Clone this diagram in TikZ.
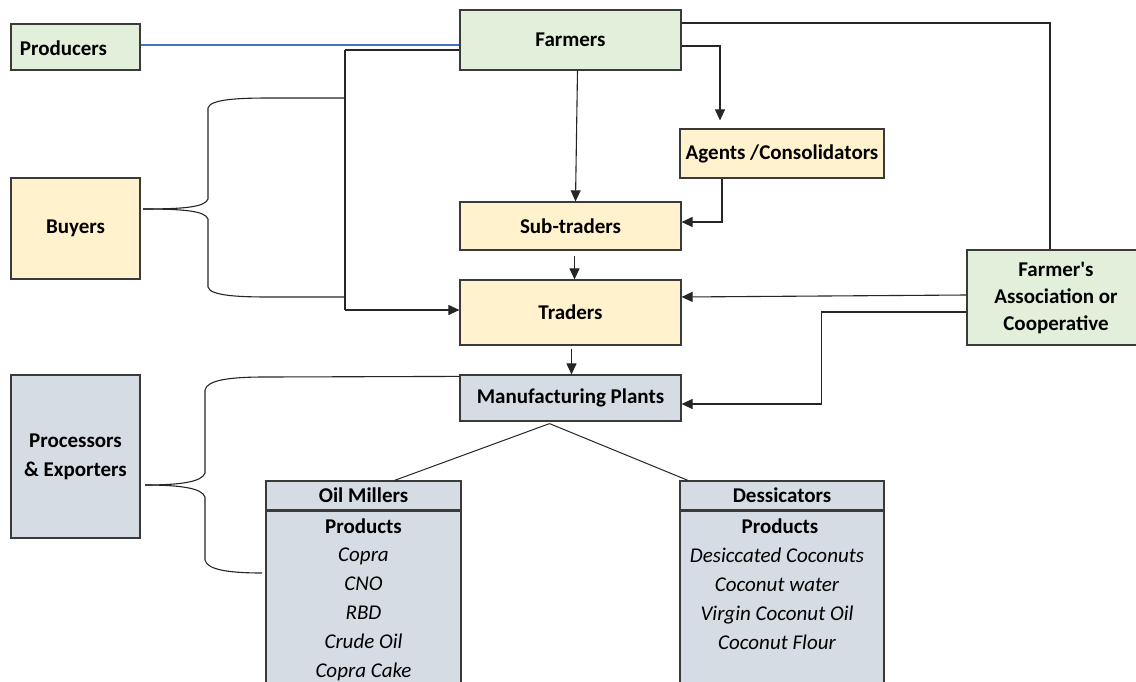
\documentclass[tikz,border=0pt]{standalone}
\usepackage{fontspec}
\setmainfont{Carlito}
\usetikzlibrary{arrows.meta}
\definecolor{gfill}{HTML}{E2EFDA}
\definecolor{yfill}{HTML}{FFF2CC}
\definecolor{bfill}{HTML}{D6DCE4}
\definecolor{edge}{HTML}{3A3A3A}
\definecolor{bluel}{HTML}{4472C4}
\tikzset{
  box/.style={draw=edge, line width=1.2pt, inner sep=0pt, align=center, font=\fontsize{21}{27}\selectfont\bfseries},
  gbox/.style={box, fill=gfill},
  ybox/.style={box, fill=yfill},
  bbox/.style={box, fill=bfill},
  conn/.style={draw=black!85, line width=1.1pt},
  arr/.style={conn, -{Triangle[length=11pt,width=10pt]}},
  lbl/.style={inner sep=0pt, font=\fontsize{21}{27}\selectfont\bfseries},
  prodtxt/.style={inner sep=0pt, align=center, font=\fontsize{21}{29}\selectfont\itshape},
}
\begin{document}
\begin{tikzpicture}[x=1pt,y=-1pt]
\useasboundingbox (0,0) rectangle (1136,681);
\clip (0,0) rectangle (1136,681);
\fill[white] (0,0) rectangle (1136,681);
% boxes
\node[gbox, minimum width=129pt, minimum height=46pt] (prod) at (75.5,47) {};
\node[lbl] (prodt) at (63.5,48) {Producers};
\node[gbox, minimum width=221pt, minimum height=60pt] (farm) at (570.5,40) {Farmers};
\node[ybox, minimum width=204pt, minimum height=49pt] (agent) at (782,153.5) {Agents /Consolidators};
\node[ybox, minimum width=221pt, minimum height=48pt] (sub) at (570.5,226) {Sub-traders};
\node[ybox, minimum width=221pt, minimum height=65pt] (trad) at (570.5,312.5) {Traders};
\node[bbox, minimum width=221pt, minimum height=46pt] (mfg) at (570.5,398) {Manufacturing Plants};
\node[ybox, minimum width=129pt, minimum height=101pt] (buy) at (75.5,228.5) {Buyers};
\node[bbox, minimum width=129pt, minimum height=163pt, font=\fontsize{21}{29}\selectfont\bfseries] (proc) at (75.5,456.5) {Processors\\\& Exporters};
\node[gbox, minimum width=173pt, minimum height=95pt] (assoc) at (1053.5,297.5) {};
\node[lbl, align=center] (assoct) at (1056,298) {Farmer\textquotesingle s\\Association or\\Cooperative};
% product tables
\node[bbox, minimum width=195pt, minimum height=29pt] (oilh) at (363.5,495.5) {Oil Millers};
\node[bbox, anchor=north, minimum width=195pt, minimum height=200pt] (oilb) at (oilh.south) {};
\node[bbox, minimum width=204pt, minimum height=29pt] (desh) at (782,495.5) {Dessicators};
\node[bbox, anchor=north, minimum width=204pt, minimum height=200pt] (desb) at (desh.south) {};
\node[lbl] (oilp) at (363.5,526) {Products};
\node[prodtxt, anchor=north] (oill) at (363.5,548) {Copra\\CNO\\RBD\\Crude Oil\\Copra Cake};
\node[lbl] (desp) at (780,526) {Products};
\node[prodtxt, anchor=north] (desl) at (777,548) {Desiccated Coconuts\\Coconut water\\Virgin Coconut Oil\\Coconut Flour};
% connectors
\draw[draw=bluel, line width=1.2pt] ([yshift=2]prod.east) -- ([yshift=2]prod.east -| farm.west);
% buyers brace
\coordinate (bt) at (143,209);
\coordinate (vtop) at (345,50);
\coordinate (vbot) at (345,310);
\draw[conn] (bt) .. controls (185,209) and (205,207) .. (208,199) -- (208,108)
  .. controls (210,99) and (240,98) .. (270,98) -- (vtop |- 0,98);
\draw[conn] (bt) .. controls (185,209) and (205,211) .. (208,219) -- (208,287)
  .. controls (210,296) and (240,297) .. (270,297) -- (vtop |- 0,297);
\draw[conn] (vtop) -- (vbot);
\draw[conn] (vtop) -- (vtop -| farm.west);
\draw[arr] (vbot) -- (vbot -| trad.west);
% farmers flows
\draw[arr] ([xshift=7]farm.south) -- ([xshift=5]sub.north);
\draw[arr] ([yshift=-6]farm.east) -| ([xshift=-62,yshift=8]agent.north);
\draw[arr] ([xshift=-60]agent.south) |- ([yshift=4]sub.east);
\draw[arr, shorten <=5pt] ([xshift=4]sub.south) -- ([xshift=4]trad.north);
\draw[conn] ([yshift=17]farm.east) -| ([xshift=-3.5]assoc.north);
\draw[arr] ([yshift=2.5]assoc.west) -- ([yshift=15.5]trad.east);
\draw[arr] ([yshift=-14.5]assoc.west) -- ++(-145,0) |- ([yshift=-6]mfg.east);
\draw[arr, shorten <=3pt] ([xshift=1]trad.south) -- ([xshift=1]mfg.north);
% manufacturing split
\draw[line width=1pt, draw=black!85] ([xshift=-21,yshift=-2]mfg.south) -- ([xshift=31]oilh.north);
\draw[line width=1pt, draw=black!85] ([xshift=-21,yshift=-2]mfg.south) -- ([xshift=-94]desh.north);
% processors brace
\coordinate (pt) at (145,485);
\coordinate (pb) at (262,573);
\draw[conn] (pt) .. controls (180,485) and (202,482) .. (205,473) -- (205,390)
  .. controls (207,380) and (230,377) .. (265,377) -- ([yshift=-2]mfg.north west);
\draw[conn] (pt) .. controls (180,485) and (202,488) .. (205,497) -- (205,560)
  .. controls (207,570) and (230,573) .. (pb);
\end{tikzpicture}
\end{document}
